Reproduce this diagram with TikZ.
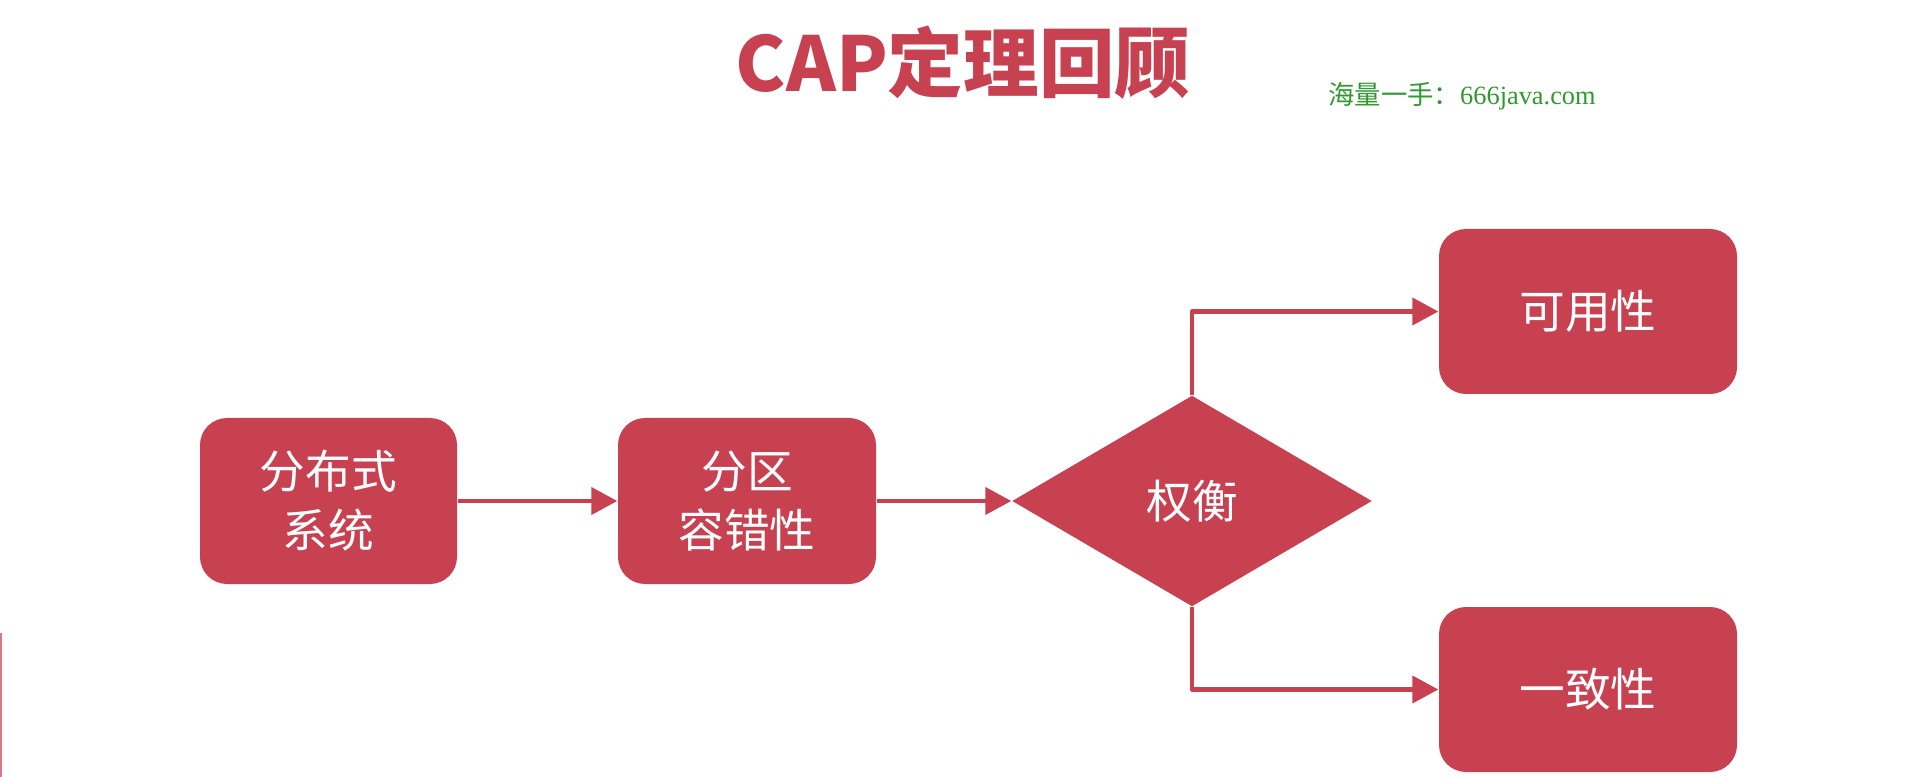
\documentclass[tikz,border=0pt]{standalone}
\usepackage{fontspec}
\newfontfamily\cjk{Noto Sans CJK SC}
\newfontfamily\wmserif{Liberation Serif}
\usetikzlibrary{arrows.meta,shapes.geometric}
\definecolor{caprose}{HTML}{C84151}
\definecolor{markgreen}{HTML}{2E9A2E}
\tikzset{
  every picture/.style={
    line join=round,
    >={Triangle[length=0.26cm,width=0.27cm]},   % filled tip on every link
  },
  block/.style={rectangle, rounded corners=0.27cm, fill=caprose, text=white,
    font=\cjk\fontsize{13}{16.8}\selectfont, align=center, inner sep=0pt},
  choice/.style={diamond, fill=caprose, text=white,
    font=\cjk\fontsize{13}{16.8}\selectfont, inner sep=0pt,
    minimum width=3.6cm, minimum height=2.11cm},
  link/.style={->, draw=caprose, line width=1.15pt},
}

\begin{document}
\begin{tikzpicture}
\useasboundingbox (0,0) rectangle (19.2,-7.77);
\node (title)[anchor=base, text=caprose, font=\cjk\bfseries\fontsize{21.5}{24}\selectfont]
  at (9.63,-0.92) {CAP定理回顾};
\node (mark)[anchor=base, text=markgreen, font=\fontsize{7.5}{9}\selectfont]
  at (14.62,-1.05) {\cjk 海量一手：\wmserif 666java.com};
\draw[caprose!70, line width=0.3pt] (0.01,-6.33) -- (0.01,-7.77);
% the flow
\node (dist)[block, minimum width=2.57cm, minimum height=1.66cm] at (3.285,-5.01) {分布式\\系统};
\node (part)[block, minimum width=2.58cm, minimum height=1.66cm] at (7.47,-5.01) {分区\\容错性};
\node (trade)[choice] at (11.92,-5.01) {权衡};
\node (avail)[block, minimum width=2.98cm, minimum height=1.65cm] at (15.88,-3.115) {可用性};
\node (cons)[block, minimum width=2.98cm, minimum height=1.65cm] at (15.88,-6.895) {一致性};
\draw[link] (dist) -- (part);
\draw[link] (part) -- (trade);
\draw[link] (trade.north) |- (avail);
\draw[link] (trade.south) |- (cons);
\end{tikzpicture}
\end{document}
